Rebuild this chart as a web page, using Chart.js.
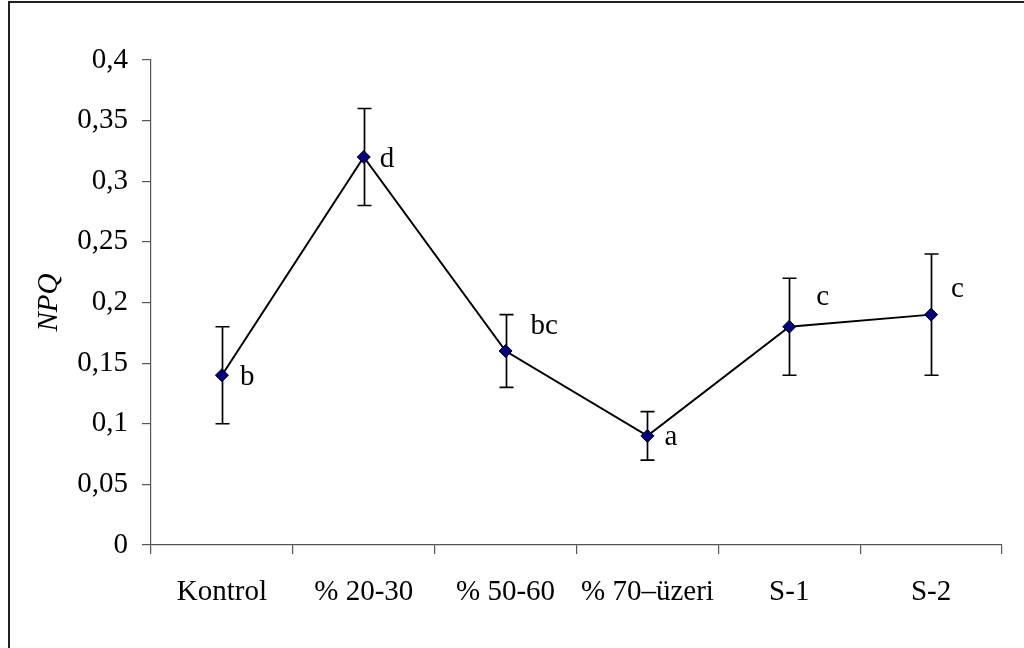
<!DOCTYPE html>
<html>
<head>
<meta charset="utf-8">
<script src="https://cdn.jsdelivr.net/npm/chart.js@4/dist/chart.umd.min.js"></script>
<style>
  html, body { margin: 0; padding: 0; background: #fff; }
  #wrap { width: 1024px; height: 648px; position: relative; }
</style>
</head>
<body>
<div id="wrap"><canvas id="c" width="1024" height="648"></canvas></div>
<script>
// Treatment groups and NPQ means with lower/upper error limits
const categories = ['Kontrol', '% 20-30', '% 50-60', '% 70\u2013üzeri', 'S-1', 'S-2'];
const npqMean  = [0.14, 0.32, 0.16, 0.09, 0.18, 0.19];
const npqLower = [0.10, 0.28, 0.13, 0.07, 0.14, 0.14];
const npqUpper = [0.18, 0.36, 0.19, 0.11, 0.22, 0.24];
const groupLetters = ['b', 'd', 'bc', 'a', 'c', 'c'];
const yTicks = [0, 0.05, 0.1, 0.15, 0.2, 0.25, 0.3, 0.35, 0.4];

// pixel offsets of the significance letters from their points
const letterOffsets = [[18, 2], [16, 2], [25, -25], [17, 2], [27, -29], [20, -25]];

const SERIF = '"Liberation Serif", "Times New Roman", serif';
const FONT_SIZE = 29;

const frame = {
  id: 'frame',
  beforeDraw(chart) {
    const ctx = chart.ctx;
    ctx.save();
    ctx.fillStyle = '#fff';
    ctx.fillRect(0, 0, chart.width, chart.height);
    ctx.strokeStyle = '#222';
    ctx.lineWidth = 2;
    ctx.beginPath();
    ctx.moveTo(9, chart.height + 5);
    ctx.lineTo(9, 2);
    ctx.lineTo(chart.width + 5, 2);
    ctx.stroke();
    ctx.restore();
  }
};

const errorBars = {
  id: 'errorBars',
  beforeDatasetsDraw(chart) {
    const ctx = chart.ctx;
    const x = chart.scales.x, y = chart.scales.y;
    ctx.save();
    ctx.strokeStyle = '#000';
    ctx.lineWidth = 1.7;
    npqMean.forEach((m, i) => {
      const px = Math.round(x.getPixelForValue(i)) + 0.5;
      const lo = y.getPixelForValue(npqLower[i]);
      const hi = y.getPixelForValue(npqUpper[i]);
      ctx.beginPath();
      ctx.moveTo(px, lo); ctx.lineTo(px, hi);
      ctx.moveTo(px - 7, lo); ctx.lineTo(px + 7, lo);
      ctx.moveTo(px - 7, hi); ctx.lineTo(px + 7, hi);
      ctx.stroke();
    });
    ctx.restore();
  },
  afterDatasetsDraw(chart) {
    const ctx = chart.ctx;
    const x = chart.scales.x, y = chart.scales.y;
    ctx.save();
    ctx.fillStyle = '#000';
    ctx.font = FONT_SIZE + 'px ' + SERIF;
    ctx.textAlign = 'left';
    ctx.textBaseline = 'middle';
    groupLetters.forEach((t, i) => {
      const px = x.getPixelForValue(i) + letterOffsets[i][0];
      const py = y.getPixelForValue(npqMean[i]) + letterOffsets[i][1];
      ctx.fillText(t, px, py);
    });
    ctx.restore();
  }
};

new Chart(document.getElementById('c'), {
  type: 'line',
  data: {
    labels: categories,
    datasets: [{
      data: npqMean,
      borderColor: '#000',
      borderWidth: 2,
      pointStyle: 'rectRot',
      pointRadius: 6.5,
      pointBackgroundColor: '#000080',
      pointBorderColor: '#000',
      pointBorderWidth: 1,
      tension: 0,
      fill: false
    }]
  },
  options: {
    responsive: false,
    animation: false,
    devicePixelRatio: 1,
    layout: { padding: { left: 0, top: 60, right: 22, bottom: 0 } },
    plugins: { legend: { display: false }, tooltip: { enabled: false } },
    scales: {
      x: {
        type: 'category',
        offset: true,
        grid: {
          offset: true,
          drawOnChartArea: false,
          drawTicks: true,
          tickLength: 9,
          color: '#555',
          lineWidth: 1.2
        },
        border: { color: '#555', width: 1.2 },
        ticks: {
          color: '#000',
          font: { family: SERIF, size: FONT_SIZE },
          padding: 21,
          maxRotation: 0,
          autoSkip: false
        },
        afterFit(scale) { scale.height = 103; }
      },
      y: {
        min: 0,
        max: 0.4,
        afterBuildTicks(scale) { scale.ticks = yTicks.map(v => ({ value: v })); },
        grid: {
          drawOnChartArea: false,
          drawTicks: true,
          tickLength: 9,
          color: '#555',
          lineWidth: 1.2
        },
        border: { color: '#555', width: 1.2 },
        ticks: {
          color: '#000',
          font: { family: SERIF, size: FONT_SIZE },
          padding: 14,
          callback: v => String(+v.toFixed(2)).replace('.', ',')
        },
        title: {
          display: true,
          text: 'NPQ',
          color: '#000',
          font: { family: SERIF, size: FONT_SIZE, style: 'italic' },
          padding: { top: 32, bottom: 0 }
        },
        afterFit(scale) { scale.width = 151; }
      }
    }
  },
  plugins: [frame, errorBars]
});
</script>
</body>
</html>
